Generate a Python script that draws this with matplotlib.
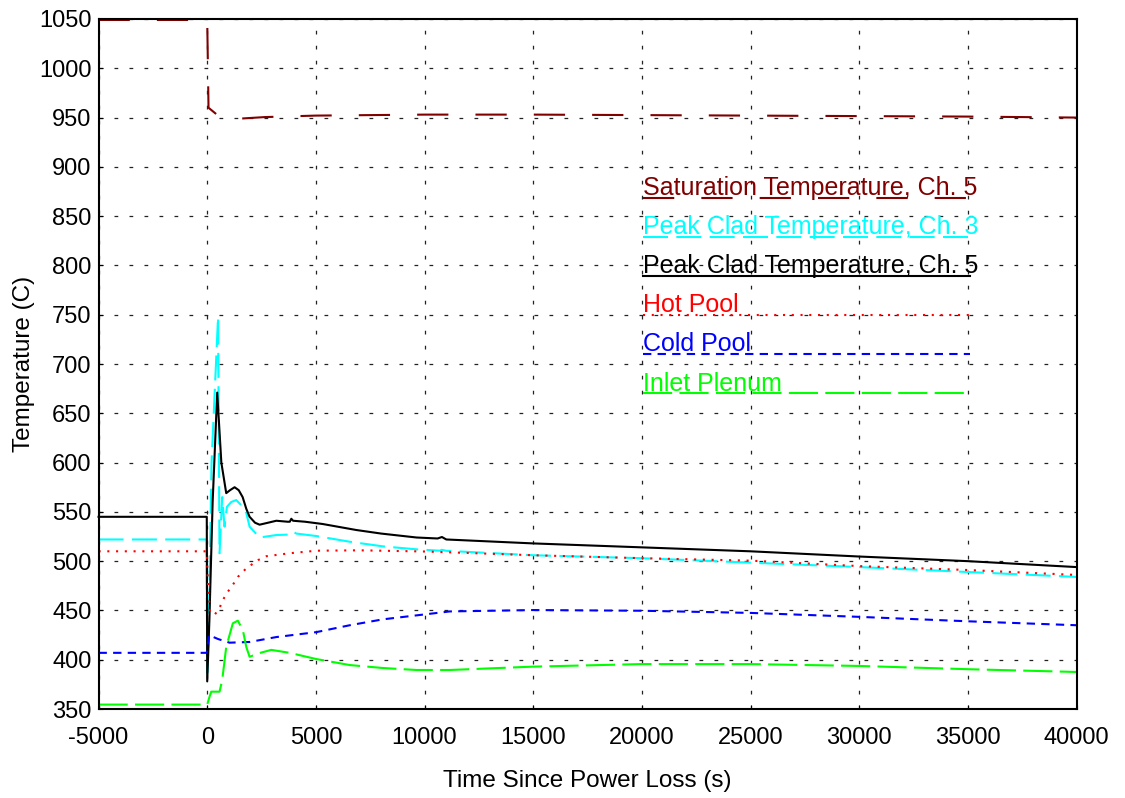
import matplotlib
matplotlib.use("Agg")
import matplotlib.pyplot as plt

plt.rcParams['font.family'] = ['Liberation Sans', 'DejaVu Sans']
plt.rcParams['axes.unicode_minus'] = False

# time (s) / temperature (C) pairs
sat_t = [-5000, 0, 20, 60, 500, 1200, 2650, 5000, 10000, 15000, 25000, 35000, 40000]
sat_T = [1049, 1049, 1020, 960, 952, 948.5, 950.5, 952, 953, 953, 952, 951, 950]

ch3_t = [-5000, -30, 0, 60, 200, 500, 567, 690, 797, 905, 1105, 1336, 1600, 1797, 1950,
         2410, 3180, 3800, 3945, 4100, 5020, 6560, 8090, 9630, 10700, 10800, 11000,
         15000, 20000, 25000, 30000, 35000, 40000]
ch3_T = [522, 522, 387, 420, 600, 748, 508, 565, 535, 555, 560, 562, 556, 549, 535,
         524, 526.5, 527, 530, 528, 525.5, 519.7, 515, 512, 510.6, 511.5, 510.5,
         506, 503, 498.5, 494, 489, 484]

ch5_t = [-5000, -20, 0, 100, 250, 460, 650, 875, 1050, 1260, 1450, 1630, 1800, 1950,
         2200, 2410, 2800, 3180, 3700, 3800, 3870, 3950, 4500, 5310, 6860, 8000, 9630,
         10600, 10800, 11000, 15000, 20000, 25000, 30000, 35000, 40000]
ch5_T = [545, 545, 378, 440, 560, 671, 600, 569, 572, 575, 572, 565, 553, 545,
         539, 537, 539, 541, 540, 540, 543, 541, 540, 537.7, 531.6, 528, 524,
         523, 524.5, 522, 518, 514, 510, 504.7, 500, 494]

hot_t = [-5000, -20, 30, 120, 336, 567, 720, 950, 1180, 1410, 1797, 2332, 2720, 3790,
         5020, 7000, 10000, 15000, 20000, 25000, 30000, 35000, 40000]
hot_T = [510, 510, 480, 450, 445.4, 452.5, 460.6, 469, 476, 484, 492.7, 501, 505, 508,
         510.6, 511, 509.8, 506, 503, 500.5, 495, 491, 486]

cold_t = [-5000, -20, 80, 500, 1028, 1950, 3180, 5020, 6560, 8090, 9630, 11160,
          15000, 20000, 25000, 30000, 35000, 40000]
cold_T = [407, 407, 425, 421, 417.3, 418, 423, 428, 435, 441, 445, 449,
          450.4, 449.7, 447.5, 443.5, 439, 435]

inlet_t = [-5000, 0, 100, 184, 567, 690, 875, 1180, 1410, 1640, 1797, 1950, 2410, 2950,
           3790, 5020, 6560, 8090, 9630, 11160, 15000, 20000, 25000, 30000, 35000, 40000]
inlet_T = [354.5, 354.5, 362, 367.6, 367.6, 379.4, 413, 437, 439.6, 430, 413, 403, 406.8, 410,
           407, 400.7, 394.6, 391.6, 389.6, 389.6, 393, 395.6, 395.6, 393.7, 390.4, 387.6]

labels = ["Saturation Temperature, Ch. 5", "Peak Clad Temperature, Ch. 3",
          "Peak Clad Temperature, Ch. 5", "Hot Pool", "Cold Pool", "Inlet Plenum"]

series = [
    (sat_t, sat_T, "#800000", (0, (15, 13))),
    (ch3_t, ch3_T, "#00ffff", (0, (12, 4))),
    (ch5_t, ch5_T, "black", "-"),
    (hot_t, hot_T, "#ff0000", (0, (1, 3.2))),
    (cold_t, cold_T, "#0000ff", (0, (4, 3))),
    (inlet_t, inlet_T, "#00ff00", (0, (14, 3.5))),
]

fig = plt.figure(figsize=(11.25, 7.98), dpi=100)
ax = fig.add_axes([0.0876, 0.1115, 0.8693, 0.8647])

for (t, T, c, ls) in series:
    ax.plot(t, T, color=c, linestyle=ls, linewidth=1.5, clip_on=False)

# legend drawn by hand: label text sitting on its line sample
y0 = 0.7406
dy = 0.0566
for i, (lab, (t, T, c, ls)) in enumerate(zip(labels, series)):
    y = y0 - i * dy
    ax.plot([0.5567, 0.891], [y, y], transform=ax.transAxes, color=c,
            linestyle=ls, linewidth=1.5)
    ax.text(0.5567, y + 0.004, lab, transform=ax.transAxes, color=c,
            fontsize=18, ha='left', va='baseline')

ax.set_xlim(-5000, 40000)
ax.set_ylim(350, 1050)
ax.set_xticks(range(-5000, 40001, 5000))
ax.set_yticks(range(350, 1051, 50))
ax.grid(True, color='#222222', linestyle=(0, (3, 9)), linewidth=0.9)
ax.tick_params(direction='in', length=3, labelsize=17)
ax.tick_params(axis='x', pad=13)
ax.tick_params(axis='y', pad=5)
for s in ax.spines.values():
    s.set_linewidth(1.5)

ax.set_xlabel("Time Since Power Loss (s)", fontsize=17.5, labelpad=15)
ax.set_ylabel("Temperature (C)", fontsize=17.5, labelpad=3)

fig.savefig("out.png", dpi=100)
